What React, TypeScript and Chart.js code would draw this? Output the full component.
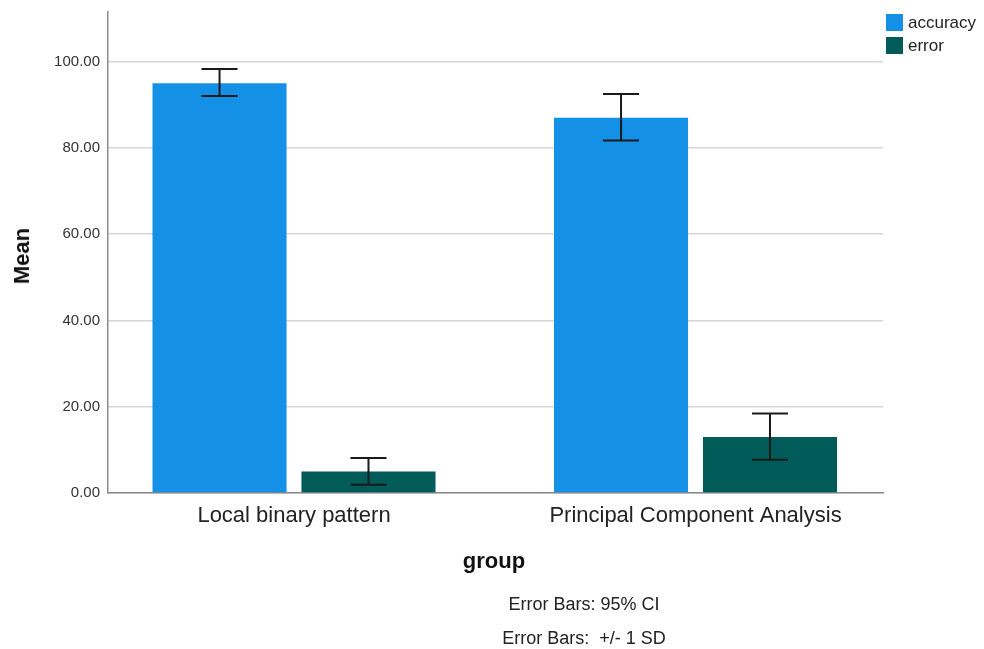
import React, { useEffect, useRef } from "react";
import { Chart, registerables } from "chart.js";

Chart.register(...registerables);

const categories = ["Local binary pattern", "Principal Component Analysis"];
const seriesNames = ["accuracy", "error"];
const accuracyMean = [95.0, 87.0];
const accuracyLow = [92.0, 81.7];
const accuracyHigh = [98.3, 92.5];
const errorMean = [5.0, 13.0];
const errorLow = [1.9, 7.7];
const errorHigh = [8.1, 18.4];
const yTicks = [0, 20, 40, 60, 80, 100];
const footnotes = ["Error Bars: 95% CI", "Error Bars:  +/- 1 SD"];

const colors = ["#1490E6", "#005B59"];
const FONT = "'Liberation Sans', Arial, sans-serif";

const errorBarPlugin = {
  id: "errorBars",
  afterDatasetsDraw(chart: any) {
    const ctx = chart.ctx;
    const yScale = chart.scales.y;
    const lows = [accuracyLow, errorLow];
    const highs = [accuracyHigh, errorHigh];
    ctx.save();
    ctx.strokeStyle = "#1a1a1a";
    ctx.lineWidth = 2;
    chart.data.datasets.forEach((_: any, di: number) => {
      const meta = chart.getDatasetMeta(di);
      meta.data.forEach((bar: any, i: number) => {
        const x = bar.x;
        const yl = yScale.getPixelForValue(lows[di][i]);
        const yh = yScale.getPixelForValue(highs[di][i]);
        const half = 18;
        ctx.beginPath();
        ctx.moveTo(x, yl);
        ctx.lineTo(x, yh);
        ctx.moveTo(x - half, yl);
        ctx.lineTo(x + half, yl);
        ctx.moveTo(x - half, yh);
        ctx.lineTo(x + half, yh);
        ctx.stroke();
      });
    });
    ctx.restore();
  },
};

export default function App() {
  const ref = useRef<HTMLCanvasElement>(null);
  useEffect(() => {
    if (!ref.current) return;
    const chart = new Chart(ref.current, {
      type: "bar",
      data: {
        datasets: [
          {
            label: seriesNames[0],
            data: accuracyMean.map((y, i) => ({ x: i, y })),
            backgroundColor: colors[0],
            barPercentage: 0.9,
            categoryPercentage: 0.742,
          },
          {
            label: seriesNames[1],
            data: errorMean.map((y, i) => ({ x: i, y })),
            backgroundColor: colors[1],
            barPercentage: 0.9,
            categoryPercentage: 0.742,
          },
        ],
      },
      options: {
        animation: false,
        responsive: false,
        maintainAspectRatio: false,
        layout: { padding: { left: 0, top: 12, right: 101, bottom: 86 } },
        plugins: { legend: { display: false }, tooltip: { enabled: false } },
        scales: {
          x: {
            type: "linear",
            offset: false,
            min: -0.4633,
            max: 1.467,
            afterBuildTicks: (s: any) => {
              s.ticks = categories.map((_, i) => ({ value: i }));
            },
            grid: { display: false, drawTicks: false, offset: false },
            border: { display: true, color: "#8a8a8a", width: 1.5 },
            ticks: {
              color: "#222",
              padding: 10,
              maxRotation: 0,
              autoSkip: false,
              font: { family: FONT, size: 22 },
              callback: (v: any) => categories[Math.round(Number(v))] ?? "",
            },
            afterFit: (s: any) => {
              s.height = 70;
              s.paddingLeft = 0;
              s.paddingRight = 0;
            },
          },
          y: {
            min: 0,
            max: 111.5,
            afterBuildTicks: (s: any) => {
              s.ticks = yTicks.map((v) => ({ value: v }));
            },
            grid: { color: "#d6d6d6", lineWidth: 1.5, drawTicks: false },
            border: { display: true, color: "#8a8a8a", width: 1.5 },
            ticks: {
              color: "#333",
              padding: 8,
              font: { family: FONT, size: 15 },
              callback: (v: any) => Number(v).toFixed(2),
            },
            afterFit: (s: any) => {
              s.width = 108;
              s.paddingTop = 0;
              s.paddingBottom = 0;
            },
          },
        },
      },
      plugins: [errorBarPlugin],
    });
    return () => chart.destroy();
  }, []);

  const abs: React.CSSProperties = { position: "absolute", fontFamily: FONT, color: "#222", whiteSpace: "pre" };

  return (
    <div style={{ position: "absolute", left: 0, top: 0, width: 984, height: 649, background: "#fff" }}>
      <canvas ref={ref} width={984} height={649} style={{ position: "absolute", left: 0, top: 0, width: 984, height: 649 }} />
      <div
        style={{
          ...abs,
          left: 22,
          top: 256,
          fontSize: 22,
          fontWeight: "bold",
          color: "#111",
          transform: "translate(-50%, -50%) rotate(-90deg)",
        }}
      >
        Mean
      </div>
      <div style={{ ...abs, left: 494, top: 561, fontSize: 22, fontWeight: "bold", color: "#111", transform: "translate(-50%, -50%)" }}>
        group
      </div>
      {footnotes.map((t, i) => (
        <div key={t} style={{ ...abs, left: 584, top: 604 + i * 34, fontSize: 18, transform: "translate(-50%, -50%)" }}>
          {t}
        </div>
      ))}
      {seriesNames.map((n, i) => (
        <div key={n} style={{ ...abs, left: 886, top: 14 + i * 23, height: 17, display: "flex", alignItems: "center" }}>
          <span style={{ display: "inline-block", width: 17, height: 17, background: colors[i], marginRight: 5 }} />
          <span style={{ fontSize: 17 }}>{n}</span>
        </div>
      ))}
    </div>
  );
}
